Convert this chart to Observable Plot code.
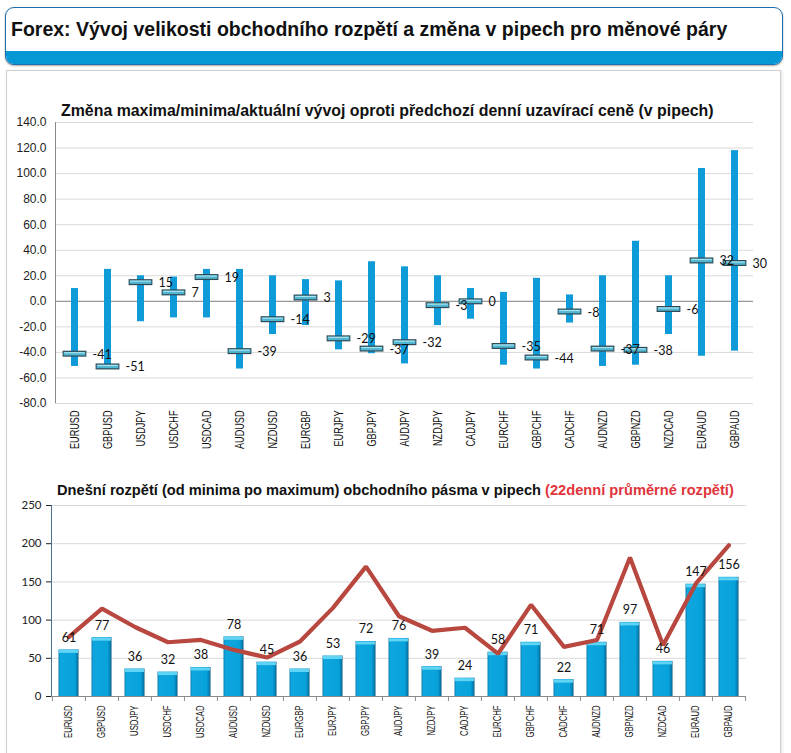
<!DOCTYPE html>
<html>
<head>
<meta charset="utf-8">
<script src="https://cdn.jsdelivr.net/npm/d3@7"></script>
<script src="https://cdn.jsdelivr.net/npm/@observablehq/plot@0.6"></script>
<style>
  html, body { margin: 0; padding: 0; background: #fff; }
  body { width: 791px; height: 753px; position: relative; overflow: hidden; font-family: "Liberation Sans", Arial, sans-serif; }
  #hdr { position: absolute; left: 5px; top: 7px; width: 776px; height: 56px; border: 1.5px solid #1c6fae; border-radius: 9px; overflow: hidden; background: #fff; box-shadow: 0 1px 2px rgba(0,0,0,0.35); }
  #hdr .band { position: absolute; left: 0; right: 0; bottom: 0; height: 13px; background: #0598d5; }
  #htitle { position: absolute; left: 11px; top: 20px; font-weight: bold; font-size: 19.5px; line-height: 19.5px; color: #111; white-space: nowrap; }
  #panel { position: absolute; left: 6px; top: 70px; width: 773px; height: 700px; border: 1px solid #cfcfcf; box-shadow: 1px 1px 3px rgba(0,0,0,0.12); background: #fff; }
  .ct { position: absolute; font-weight: bold; line-height: 16px; color: #111; white-space: nowrap; }
  .ct .red { color: #e0353b; }
  .chart { position: absolute; left: 0; }
</style>
</head>
<body>
<div id="hdr"><div class="band"></div></div>
<div id="htitle">Forex: Vývoj velikosti obchodního rozpětí a změna v pipech pro měnové páry</div>
<div id="panel"></div>
<div class="ct" id="t1" style="left:61px; top:103px; font-size:15.9px;">Změna maxima/minima/aktuální vývoj oproti předchozí denní uzavírací ceně (v pipech)</div>
<div class="ct" id="t2" style="left:57px; top:482px; font-size:14.65px;">Dnešní rozpětí (od minima po maximum) obchodního pásma v pipech <span class="red">(22denní průměrné rozpětí)</span></div>
<div class="chart" id="top" style="top:100px;"></div>
<div class="chart" id="bot" style="top:495px;"></div>
<script>
// ---- data ----
const pairs = ["EURUSD","GBPUSD","USDJPY","USDCHF","USDCAD","AUDUSD","NZDUSD","EURGBP","EURJPY","GBPJPY","AUDJPY","NZDJPY","CADJPY","EURCHF","GBPCHF","CADCHF","AUDNZD","GBPNZD","NZDCAD","EURAUD","GBPAUD"];
const highs  = [10, 25, 20, 19, 25, 25, 20, 17, 16, 31, 27, 20, 10, 7, 18, 5, 20, 47, 20, 104, 118];
const lows   = [-51, -52, -16, -13, -13, -53, -26, -19, -38, -41, -49, -19, -14, -50, -53, -17, -51, -50, -26, -43, -39];
const closes = [-41, -51, 15, 7, 19, -39, -14, 3, -29, -37, -32, -3, 0, -35, -44, -8, -37, -38, -6, 32, 30];
const ranges = [61, 77, 36, 32, 38, 78, 45, 36, 53, 72, 76, 39, 24, 58, 71, 22, 71, 97, 46, 147, 156];
const avg22  = [78, 115, 91, 71, 74, 61, 51, 72, 116, 170, 105, 86, 90, 56, 120, 65, 74, 182, 67, 148, 198];
const topTicks = [-80, -60, -40, -20, 0, 20, 40, 60, 80, 100, 120, 140];
const botTicks = [0, 50, 100, 150, 200, 250];

const topData = pairs.map((p, i) => ({pair: p, hi: highs[i], lo: lows[i], close: closes[i]}));
const botData = pairs.map((p, i) => ({pair: p, range: ranges[i], avg: avg22[i]}));

const labelFont = "Lato, 'Open Sans', sans-serif";

// ---- top chart ----
const W = 791;
const topPlot = Plot.plot({
  width: W, height: 355,
  marginTop: 22, marginBottom: 52, marginLeft: 55, marginRight: 38,
  style: {fontFamily: "'Liberation Sans', Arial, sans-serif", fontSize: "12px", color: "#222", background: "transparent"},
  x: {domain: pairs, padding: 0, tickRotate: -90, tickSize: 0, tickPadding: 7, label: null},
  y: {domain: [-80, 140], ticks: topTicks, tickFormat: d => d.toFixed(1), tickSize: 0, tickPadding: 9, label: null},
  marks: [
    Plot.ruleY(topTicks, {stroke: "#d9d9d9"}),
    Plot.ruleY([0], {stroke: "#8a8a8a"}),
    Plot.barY(topData, {x: "pair", y1: "lo", y2: "hi", fill: "#0f9bd8", insetLeft: 13, insetRight: 13}),
    Plot.tickY(topData, {x: "pair", y: "close", stroke: "#2f4a55", strokeWidth: 6, insetLeft: 4.6, insetRight: 4.6}),
    Plot.tickY(topData, {x: "pair", y: "close", stroke: "#4fb5d0", strokeWidth: 3.6, insetLeft: 5.6, insetRight: 5.6}),
    Plot.tickY(topData, {x: "pair", y: "close", stroke: "#a6e2ef", strokeWidth: 1.2, dy: -1, insetLeft: 6.2, insetRight: 6.2}),
    Plot.text(topData, {x: "pair", y: "close", text: d => String(d.close), textAnchor: "start", dx: 17.5, dy: 1, fontSize: 12.5, fill: "#111", fontFamily: labelFont})
  ]
});
document.getElementById("top").appendChild(topPlot);

// ---- bottom chart ----
const botPlot = Plot.plot({
  width: W, height: 253,
  marginTop: 10, marginBottom: 52, marginLeft: 51, marginRight: 45,
  style: {fontFamily: labelFont, fontSize: "11.5px", color: "#222", background: "transparent"},
  x: {domain: pairs, padding: 0, tickRotate: -90, tickSize: 0, tickPadding: 9, label: null},
  y: {domain: [0, 250], ticks: botTicks, tickSize: 5, tickPadding: 5, label: null},
  marks: [
    Plot.ruleY(botTicks.filter(t => t > 0), {stroke: "#d9d9d9"}),
    Plot.barY(botData, {x: "pair", y: "range", fill: "url(#barGrad)", insetLeft: 6.5, insetRight: 6.5}),
    Plot.tickY(botData, {x: "pair", y: "range", stroke: "#5fd4f4", strokeWidth: 3, dy: 1.5, insetLeft: 7, insetRight: 7}),
    Plot.ruleY([0], {stroke: "#8c8c8c"}),
    Plot.ruleX(pairs, {x: d => d, y1: 0, y2: 0, dx: -16.55, insetBottom: -5, stroke: "#8c8c8c"}),
    Plot.ruleX(pairs.slice(-1), {x: d => d, y1: 0, y2: 0, dx: 16.55, insetBottom: -5, stroke: "#8c8c8c"}),
    Plot.line(botData, {x: "pair", y: "avg", stroke: "#b8473f", strokeWidth: 4.2, strokeLinejoin: "miter"}),
    Plot.text(botData, {x: "pair", y: "range", text: d => String(d.range), dy: -12, fontSize: 12.5, fill: "#111", fontFamily: labelFont})
  ]
});
document.getElementById("bot").appendChild(botPlot);

// gradient defs for the 3D-ish bars
const grad = d3.select(botPlot).insert("defs", ":first-child").append("linearGradient").attr("id", "barGrad").attr("x1", 0).attr("x2", 1).attr("y1", 0).attr("y2", 0);
[["0%", "#0a7fb2"], ["10%", "#0fa6de"], ["80%", "#08a2db"], ["93%", "#0582b8"], ["100%", "#06577d"]].forEach(([o, c]) => grad.append("stop").attr("offset", o).attr("stop-color", c));

// left axis lines
function axisLine(plot, color) {
  const ys = plot.scale("y").range;
  const xs = plot.scale("x").range;
  d3.select(plot).append("line").attr("x1", xs[0] + 0.5).attr("x2", xs[0] + 0.5).attr("y1", ys[0]).attr("y2", ys[1]).attr("stroke", color).attr("stroke-width", 1);
}
axisLine(topPlot, "#8a8a8a");
axisLine(botPlot, "#4f6f8f");

// condensed category labels (as in the reference)
function squeeze(plot, size, factor, family) {
  d3.select(plot).selectAll('g[aria-label^="x-axis"] text').each(function() {
    this.style.fontSize = size;
    this.style.fontFamily = family;
    this.style.fill = "#111";
    const L = this.getComputedTextLength();
    this.setAttribute("textLength", (L * factor).toFixed(1));
    this.setAttribute("lengthAdjust", "spacingAndGlyphs");
  });
}
squeeze(topPlot, "12px", 0.76, "'Liberation Sans', Arial, sans-serif");
squeeze(botPlot, "10px", 0.77, "'Liberation Sans', Arial, sans-serif");
</script>
</body>
</html>
